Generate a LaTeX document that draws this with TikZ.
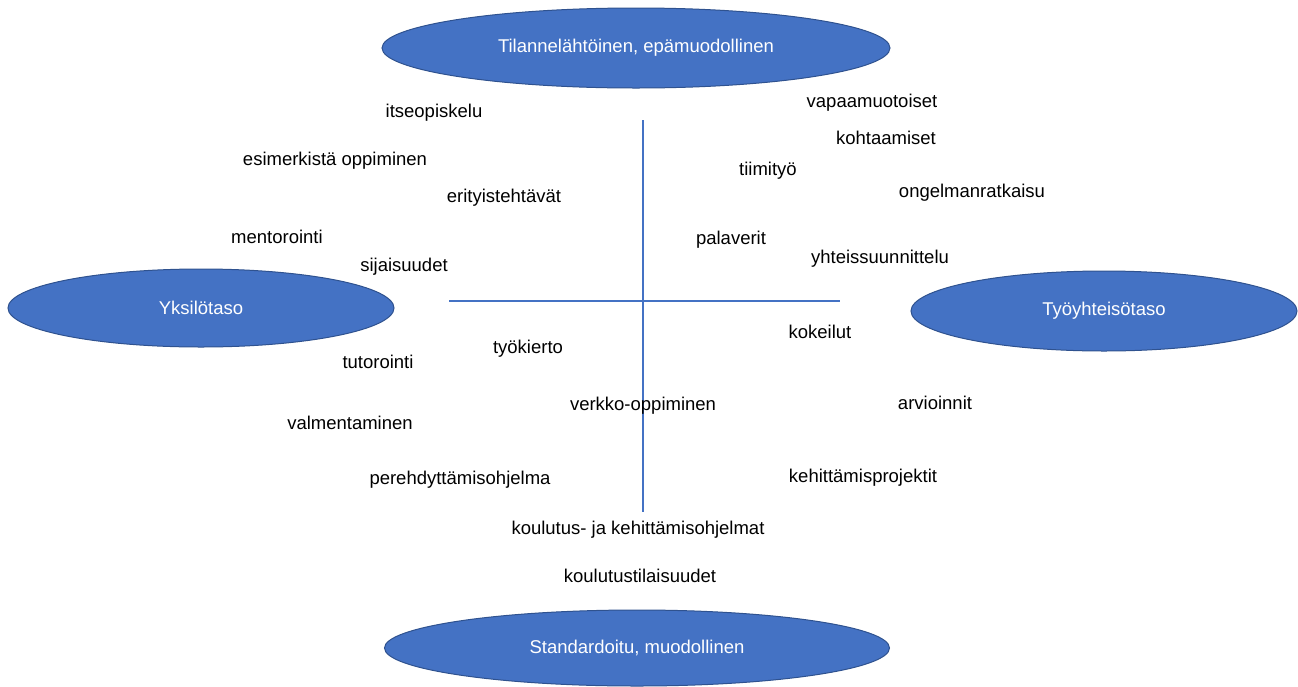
\documentclass[tikz,border=0pt]{standalone}
\usepackage{fontspec}
\setmainfont{Liberation Sans}
\usetikzlibrary{shapes.geometric}
\definecolor{ofblue}{HTML}{4472C4}
\definecolor{ofedge}{HTML}{2F528F}
\begin{document}
\begin{tikzpicture}[x=1pt,y=-1pt,
  axis/.style={draw=ofblue,line width=1.1pt},
  oval/.style={ellipse,fill=ofblue,draw=ofedge,line width=1pt,inner sep=0pt,text=white,font=\fontsize{18.5}{22}\selectfont},
  lbl/.style={inner sep=0pt,font=\fontsize{18.5}{22}\selectfont,text=black}]
\useasboundingbox (0,0) rectangle (1298,686);
\node[oval,minimum width=508pt,minimum height=80pt] (top) at (636,48) {Tilannelähtöinen, epämuodollinen};
\node[oval,minimum width=386pt,minimum height=78pt] (left) at (201,308) {Yksilötaso};
\node[oval,minimum width=386pt,minimum height=80pt] (right) at (1104,311) {Työyhteisötaso};
\node[oval,minimum width=505pt,minimum height=76pt] (bottom) at (637,648) {Standardoitu, muodollinen};
\coordinate (vt) at (643,120);
\coordinate (vb) at (643,512);
\coordinate (hl) at (449,301);
\coordinate (hr) at (840,301);
\draw[axis] (vt) -- (vb);
\draw[axis] (hl) -- (hr);
\node[lbl] (n1) at (434,113) {itseopiskelu};
\node[lbl] (n2) at (335,161) {esimerkistä oppiminen};
\node[lbl] (n3) at (504,198) {erityistehtävät};
\node[lbl] (n4) at (277,237) {mentorointi};
\node[lbl] (n5) at (404,267) {sijaisuudet};
\node[lbl] (n6) at (378,362) {tutorointi};
\node[lbl] (n7) at (528,349) {työkierto};
\node[lbl] (n8) at (350,423) {valmentaminen};
\node[lbl] (n9) at (643,406) {verkko-oppiminen};
\node[lbl] (n10) at (460,480) {perehdyttämisohjelma};
\node[lbl] (n11) at (638,530) {koulutus- ja kehittämisohjelmat};
\node[lbl] (n12) at (640,576) {koulutustilaisuudet};
\node[lbl] (n13) at (872,103) {vapaamuotoiset};
\node[lbl] (n14) at (886,138) {kohtaamiset};
\node[lbl] (n15) at (768,171) {tiimityö};
\node[lbl] (n16) at (972,193) {ongelmanratkaisu};
\node[lbl] (n17) at (731,240) {palaverit};
\node[lbl] (n18) at (880,259) {yhteissuunnittelu};
\node[lbl] (n19) at (820,332) {kokeilut};
\node[lbl] (n20) at (935,403) {arvioinnit};
\node[lbl] (n21) at (863,478) {kehittämisprojektit};
\end{tikzpicture}
\end{document}
